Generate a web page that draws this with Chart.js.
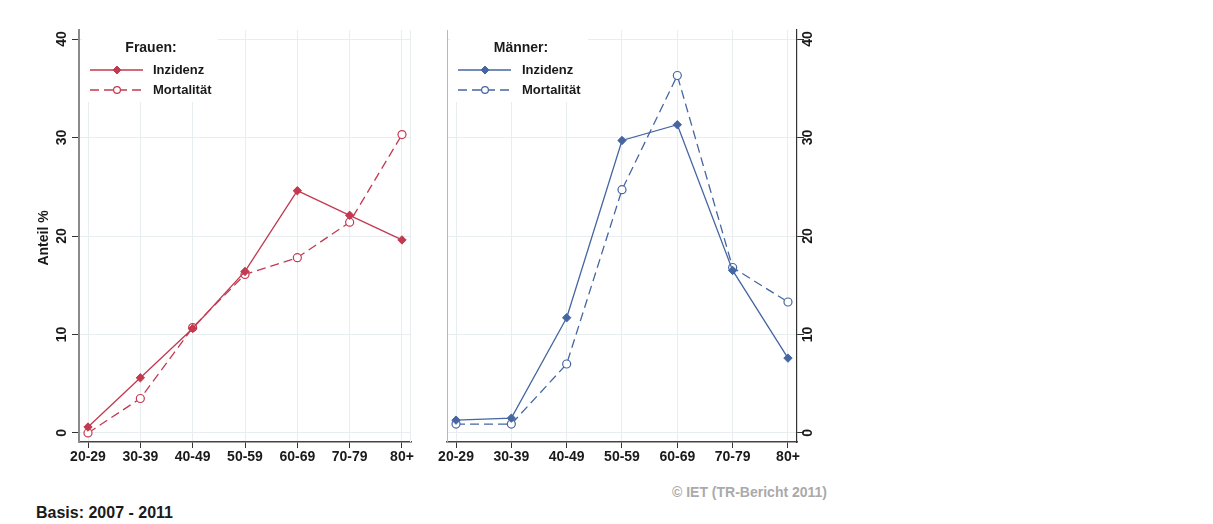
<!DOCTYPE html>
<html>
<head>
<meta charset="utf-8">
<script src="https://cdn.jsdelivr.net/npm/chart.js@4/dist/chart.umd.min.js"></script>
<style>
  body { margin: 0; background: #fff; width: 1213px; height: 524px; position: relative; overflow: hidden; font-family: "Liberation Sans", Arial, sans-serif; }
  canvas { position: absolute; top: 0; }
  #left { left: 0; }
  #right { left: 430px; }
  .foot { position: absolute; font-weight: bold; white-space: nowrap; }
  #basis { left: 36px; top: 504px; font-size: 16px; color: #1a1a1a; }
  #copy { left: 672px; top: 484px; font-size: 14px; color: #aaa; }
</style>
</head>
<body>
<canvas id="left" width="430" height="480"></canvas>
<canvas id="right" width="400" height="480"></canvas>
<div class="foot" id="basis">Basis: 2007 - 2011</div>
<div class="foot" id="copy">© IET (TR-Bericht 2011)</div>
<script>
// data (Anteil %)
const ageGroups = ['20-29', '30-39', '40-49', '50-59', '60-69', '70-79', '80+'];
const frauenInzidenz = [0.6, 5.6, 10.6, 16.4, 24.6, 22.1, 19.6];
const frauenMortalitaet = [0.0, 3.5, 10.7, 16.1, 17.8, 21.4, 30.3];
const maennerInzidenz = [1.3, 1.5, 11.7, 29.7, 31.3, 16.5, 7.6];
const maennerMortalitaet = [0.9, 0.9, 7.0, 24.7, 36.3, 16.8, 13.3];
const yTicks = [0, 10, 20, 30, 40];

const RED = '#c23a50';
const BLUE = '#4666a2';
const GRID = '#e8eef0';
const TEXT = '#1a1a1a';
const FONT = '"Liberation Sans", Arial, sans-serif';

function points(values) {
  return values.map((v, i) => ({ x: i, y: v }));
}

function makeSets(color, inz, mort) {
  return [{
    label: 'Inzidenz',
    data: points(inz),
    borderColor: color,
    backgroundColor: color,
    borderWidth: 1.3,
    pointStyle: 'rectRot',
    pointRadius: 4.2,
    pointBackgroundColor: color,
    pointBorderColor: color,
    pointBorderWidth: 1
  }, {
    label: 'Mortalität',
    data: points(mort),
    borderColor: color,
    backgroundColor: color,
    borderWidth: 1.3,
    borderDash: [9, 5],
    pointStyle: 'circle',
    pointRadius: 4,
    pointBackgroundColor: '#fff',
    pointBorderColor: color,
    pointBorderWidth: 1.2
  }];
}

// legend box, rotated y tick labels and the panel frame
const panelDecor = {
  id: 'panelDecor',
  beforeDatasetsDraw(chart, args, o) {
    const ctx = chart.ctx;
    const area = chart.chartArea;
    ctx.save();
    // light frame line
    ctx.strokeStyle = o.frameColor;
    ctx.lineWidth = 1;
    ctx.beginPath();
    ctx.moveTo(o.frameX + 0.5, area.top);
    ctx.lineTo(o.frameX + 0.5, area.bottom);
    ctx.stroke();

    // legend
    const lg = o.legend;
    ctx.fillStyle = '#fff';
    ctx.fillRect(lg.x, area.top, lg.w, lg.h);
    ctx.fillStyle = TEXT;
    ctx.font = 'bold 14px ' + FONT;
    ctx.textAlign = 'center';
    ctx.textBaseline = 'middle';
    ctx.fillText(lg.title, lg.titleX, lg.titleY);
    ctx.font = 'bold 13px ' + FONT;
    ctx.textAlign = 'left';
    chart.data.datasets.forEach((ds, i) => {
      const y = lg.itemY + i * 20;
      const cx = lg.lineX + 27;
      const r = 3.4;
      ctx.strokeStyle = ds.borderColor;
      ctx.lineWidth = ds.borderWidth;
      ctx.setLineDash(ds.borderDash || []);
      ctx.beginPath();
      ctx.moveTo(lg.lineX, y);
      ctx.lineTo(lg.lineX + 53, y);
      ctx.stroke();
      ctx.setLineDash([]);
      ctx.fillStyle = ds.pointBackgroundColor;
      ctx.strokeStyle = ds.pointBorderColor;
      ctx.lineWidth = ds.pointBorderWidth;
      ctx.beginPath();
      if (ds.pointStyle === 'circle') {
        ctx.arc(cx, y, r, 0, Math.PI * 2);
      } else {
        ctx.moveTo(cx, y - r - 0.6);
        ctx.lineTo(cx + r + 0.6, y);
        ctx.lineTo(cx, y + r + 0.6);
        ctx.lineTo(cx - r - 0.6, y);
        ctx.closePath();
      }
      ctx.fill();
      ctx.stroke();
      ctx.fillStyle = TEXT;
      ctx.fillText(ds.label, lg.textX, y);
    });

    // y tick labels, rotated
    const ys = chart.scales.y;
    ctx.font = 'bold 14px ' + FONT;
    ctx.fillStyle = TEXT;
    ctx.textAlign = 'center';
    ctx.textBaseline = 'middle';
    ys.ticks.forEach(t => {
      ctx.save();
      ctx.translate(o.tickLabelX, ys.getPixelForValue(t.value));
      ctx.rotate(-Math.PI / 2);
      ctx.fillText(String(t.value), 0, 0);
      ctx.restore();
    });
    if (o.yTitle) {
      ctx.save();
      ctx.font = 'bold 14px ' + FONT;
      ctx.translate(o.yTitleX, (area.top + area.bottom) / 2 + 2);
      ctx.rotate(-Math.PI / 2);
      ctx.fillText(o.yTitle, 0, 0);
      ctx.restore();
    }
    ctx.restore();
  }
};

function makeChart(id, sets, side, decor, padding, yWidth, xPad) {
  return new Chart(document.getElementById(id), {
    type: 'line',
    data: { datasets: sets },
    options: {
      responsive: false,
      animation: false,
      layout: { padding: padding },
      plugins: {
        legend: { display: false },
        tooltip: { enabled: false },
        panelDecor: decor
      },
      scales: {
        x: {
          type: 'linear',
          min: -xPad,
          max: 6 + xPad,
          afterBuildTicks: s => { s.ticks = ageGroups.map((g, i) => ({ value: i })); },
          afterFit: s => { s.height = 38; },
          ticks: {
            callback: v => ageGroups[v],
            color: TEXT,
            font: { family: FONT, size: 14, weight: 'bold' },
            padding: 1,
            maxRotation: 0,
            autoSkip: false
          },
          grid: { color: GRID, lineWidth: 1, tickColor: '#333', tickLength: 6 },
          border: { color: '#444', width: 1.5 }
        },
        y: {
          position: side,
          min: -0.92,
          max: 40.92,
          afterBuildTicks: s => { s.ticks = yTicks.map(v => ({ value: v })); },
          afterFit: s => { s.width = yWidth; },
          ticks: { color: 'rgba(0,0,0,0)', font: { size: 14 } },
          grid: { color: GRID, lineWidth: 1, tickColor: '#333', tickLength: 7 },
          border: side === 'left' ? { color: '#8a8a8a', width: 2 } : { color: '#333', width: 1.2 }
        }
      }
    },
    plugins: [panelDecor]
  });
}

makeChart('left', makeSets(RED, frauenInzidenz, frauenMortalitaet), 'left', {
  frameX: 410, frameColor: GRID,
  tickLabelX: 62, yTitle: 'Anteil %', yTitleX: 44,
  legend: { x: 82, w: 136, h: 72, title: 'Frauen:', titleX: 151, titleY: 48, itemY: 70, lineX: 90, textX: 153 }
}, { top: 30, right: 19, left: 0, bottom: 0 }, 79, 0.172);

makeChart('right', makeSets(BLUE, maennerInzidenz, maennerMortalitaet), 'right', {
  frameX: 17, frameColor: '#b8b8b8',
  tickLabelX: 378,
  legend: { x: 20, w: 138, h: 72, title: 'Männer:', titleX: 91, titleY: 48, itemY: 70, lineX: 28, textX: 92 }
}, { top: 30, right: 0, left: 17, bottom: 0 }, 33, 0.163);
</script>
</body>
</html>
